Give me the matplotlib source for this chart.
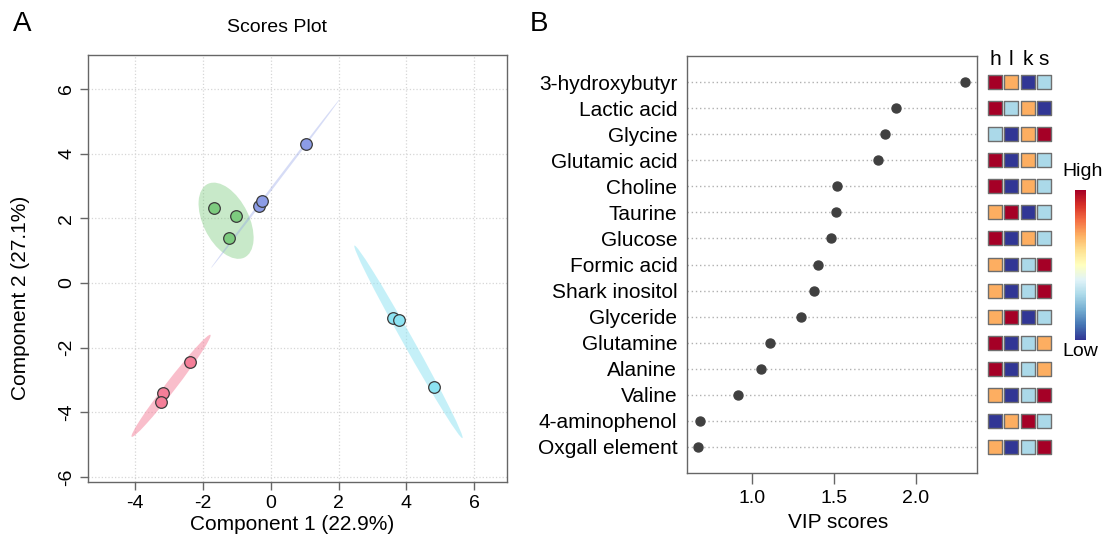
import numpy as np
import matplotlib as mpl
import matplotlib.pyplot as plt
from matplotlib.patches import Ellipse
from matplotlib.colors import ListedColormap

plt.rcParams['font.family'] = ['Liberation Sans', 'DejaVu Sans']

# --- panel A: PLS-DA scores (component 1, component 2) ---
group_names = ['pink', 'green', 'blue', 'cyan']
comp1 = {
    'pink': [-2.39, -3.19, -3.24],
    'green': [-1.68, -1.03, -1.24],
    'blue': [1.03, -0.35, -0.27],
    'cyan': [3.60, 3.78, 4.81],
}
comp2 = {
    'pink': [-2.45, -3.40, -3.68],
    'green': [2.32, 2.07, 1.39],
    'blue': [4.30, 2.38, 2.54],
    'cyan': [-1.08, -1.15, -3.22],
}
point_colors = {'pink': '#F47E98', 'green': '#7DCB7F', 'blue': '#8C9CE6', 'cyan': '#8CE3F2'}
ellipse_alpha = {'pink': 0.5, 'green': 0.42, 'blue': 0.35, 'cyan': 0.5}

# --- panel B: VIP scores and group ranks (1 = low, 4 = high) ---
metabolites = ['3-hydroxybutyr', 'Lactic acid', 'Glycine', 'Glutamic acid', 'Choline',
               'Taurine', 'Glucose', 'Formic acid', 'Shark inositol', 'Glyceride',
               'Glutamine', 'Alanine', 'Valine', '4-aminophenol', 'Oxgall element']
vip = [2.30, 1.88, 1.81, 1.77, 1.52, 1.51, 1.48, 1.40, 1.38, 1.30,
       1.11, 1.055, 0.917, 0.685, 0.671]
groups = ['h', 'l', 'k', 's']
ranks = [
    [4, 3, 1, 2], [4, 2, 3, 1], [2, 1, 3, 4], [4, 1, 3, 2], [4, 1, 3, 2],
    [3, 4, 1, 2], [4, 1, 3, 2], [3, 1, 2, 4], [3, 1, 2, 4], [3, 4, 1, 2],
    [4, 1, 2, 3], [4, 1, 2, 3], [3, 1, 2, 4], [1, 3, 4, 2], [3, 1, 2, 4],
]
rank_colors = ['#313695', '#abd9e9', '#fdae61', '#a50026']

W, H = 1105, 536
fig = plt.figure(figsize=(W / 100, H / 100), dpi=100)


def box(l, t, r, b):
    return [l / W, (H - b) / H, (r - l) / W, (b - t) / H]


# ---------------- panel A ----------------
ax1 = fig.add_axes(box(88, 55, 507, 482))
ax1.set_xlim(-5.39, 6.97)
ax1.set_ylim(-6.15, 7.05)
ax1.set_xticks([-4, -2, 0, 2, 4, 6])
ax1.set_yticks([-6, -4, -2, 0, 2, 4, 6])
ax1.grid(True, linestyle=':', color='#d6d6d6', linewidth=0.9)
ax1.set_axisbelow(True)

# 95% confidence ellipses from each group's covariance
chi = np.sqrt(-2 * np.log(1 - 0.95))
for g in group_names:
    pts = np.column_stack([comp1[g], comp2[g]])
    centre = pts.mean(axis=0)
    vals, vecs = np.linalg.eigh(np.cov(pts.T))
    angle = np.degrees(np.arctan2(vecs[1, 1], vecs[0, 1]))
    ell = Ellipse(centre, 2 * chi * np.sqrt(vals[1]), 2 * chi * np.sqrt(max(vals[0], 1e-4)),
                  angle=angle, facecolor=point_colors[g], edgecolor='none',
                  alpha=ellipse_alpha[g], zorder=1)
    ax1.add_patch(ell)

for g in group_names:
    ax1.scatter(comp1[g], comp2[g], s=70, color=point_colors[g],
                edgecolor='#3a3a3a', linewidth=0.9, zorder=3)

for sp in ax1.spines.values():
    sp.set_color('#666666')
    sp.set_linewidth(1.0)
ax1.tick_params(length=6, width=1, color='#666666', labelsize=14, pad=3)
ax1.set_xticklabels(['-4', '-2', '0', '2', '4', '6'])
ax1.set_yticklabels(['-6', '-4', '-2', '0', '2', '4', '6'], rotation=90, va='center')

fig.text(277 / W, 1 - 27 / H, 'Scores Plot', ha='center', va='center', fontsize=14)
fig.text(292 / W, 1 - 524 / H, 'Component 1 (22.9%)', ha='center', va='center', fontsize=15)
fig.text(21 / W, 1 - 298 / H, 'Component 2 (27.1%)', ha='center', va='center',
         fontsize=15, rotation=90)
fig.text(22 / W, 1 - 24 / H, 'A', ha='center', va='center', fontsize=20)
fig.text(539 / W, 1 - 24 / H, 'B', ha='center', va='center', fontsize=20)

# ---------------- panel B ----------------
n = len(metabolites)
rows = np.arange(n, 0, -1)

ax2 = fig.add_axes(box(687, 56, 977, 473))
ax2.set_xlim(0.604, 2.372)
ax2.set_ylim(0, n + 1)
ax2.scatter(vip, rows, s=42, color='#404040', zorder=3)
ax2.set_yticks(rows)
ax2.set_yticklabels(metabolites, fontsize=15)
ax2.set_xticks([1.0, 1.5, 2.0])
ax2.set_xticklabels(['1.0', '1.5', '2.0'])
ax2.grid(True, axis='y', linestyle=(0, (1, 2)), color='#b0b0b0', linewidth=1.0)
ax2.set_axisbelow(True)
ax2.tick_params(axis='y', length=0, pad=7)
ax2.tick_params(axis='x', length=8, width=1, color='#666666', labelsize=14, pad=4)
for sp in ax2.spines.values():
    sp.set_color('#666666')
    sp.set_linewidth(1.0)
fig.text(838 / W, 1 - 522 / H, 'VIP scores', ha='center', va='center', fontsize=15)

# group rank squares
axh = fig.add_axes(box(987, 56, 1052, 473))
axh.set_xlim(0, len(groups))
axh.set_ylim(0, n + 1)
axh.axis('off')
cmap4 = ListedColormap(rank_colors)
for j, g in enumerate(groups):
    axh.scatter(np.full(n, j + 0.5), rows, c=[r[j] for r in ranks], cmap=cmap4,
                vmin=0.5, vmax=4.5, marker='s', s=100, edgecolor='#6e6e6e',
                linewidth=1.0, clip_on=False)
    axh.text(j + 0.5, n + 0.66, g, ha='center', va='baseline', fontsize=15, clip_on=False)

# colour key
cax = fig.add_axes(box(1075, 190, 1086, 340))
cb = mpl.colorbar.ColorbarBase(cax, cmap=plt.get_cmap('RdYlBu_r'), orientation='vertical')
cb.set_ticks([])
cb.outline.set_visible(False)
fig.text(1083 / W, 1 - 172 / H, 'High', ha='center', va='center', fontsize=14)
fig.text(1080 / W, 1 - 351 / H, 'Low', ha='center', va='center', fontsize=14)

fig.savefig('out.png', dpi=100)
